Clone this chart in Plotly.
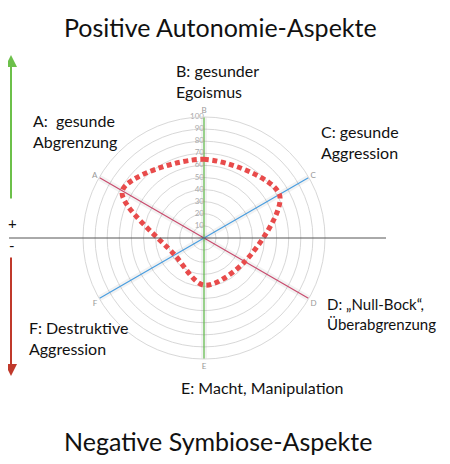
import plotly.graph_objects as go

categories = ["A", "B", "C", "D", "E", "F"]
values = [78, 65, 72, 39, 39, 28]
radial_ticks = [10, 20, 30, 40, 50, 60, 70, 80, 90, 100]
radial_tick_labels = [str(v) for v in radial_ticks]
axis_pairs = [("A", "D", "#c94c6e"), ("B", "E", "#5dbb46"), ("C", "F", "#4a9ee0")]

OFF = 8  # page body margin
W, H = 450 - OFF, 464 - OFF
cx, cy, R = 204, 238, 121

def px(x):
    return (x - OFF) / W

def py(y):
    return 1 - (y - OFF) / H

fig = go.Figure()

for a, b, col in axis_pairs:
    fig.add_trace(go.Scatterpolar(
        r=[100, 0, 100], theta=[a, a, b], mode="lines",
        line=dict(color="rgba(0,0,0,0.05)", width=6), hoverinfo="skip"))
    fig.add_trace(go.Scatterpolar(
        r=[100, 0, 100], theta=[a, a, b], mode="lines",
        line=dict(color=col, width=1.2), hoverinfo="skip"))

fig.add_trace(go.Scatterpolar(
    r=radial_ticks, theta=["B"] * len(radial_ticks), mode="text",
    text=radial_tick_labels, textposition="middle left",
    textfont=dict(size=8, color="#aaaaaa", family="Lato"), hoverinfo="skip"))

fig.add_trace(go.Scatterpolar(
    r=values + [values[0]], theta=categories + [categories[0]],
    mode="lines", line=dict(color="#e84b4b", width=5, dash="5px,3.5px", shape="spline", smoothing=0.9),
    hoverinfo="skip"))

fig.update_layout(
    width=W, height=H,
    margin=dict(l=0, r=0, t=0, b=0),
    paper_bgcolor="white",
    showlegend=False,
    font=dict(family="Lato", color="#111"),
    polar=dict(
        domain=dict(x=[px(cx - R), px(cx + R)], y=[py(cy + R), py(cy - R)]),
        bgcolor="white",
        gridshape="circular",
        radialaxis=dict(range=[0, 100], tickvals=radial_ticks, angle=90,
                        showline=False, showticklabels=False, gridcolor="#d8d8d8", gridwidth=1,
                        ticks=""),
        angularaxis=dict(categoryarray=categories, rotation=150, direction="clockwise",
                         showgrid=False, showline=True, linecolor="#d8d8d8", ticks="",
                         tickfont=dict(size=8, color="#999999")),
    ),
)

# horizontal divider line
fig.add_shape(type="line", xref="paper", yref="paper", x0=px(9), x1=px(386), y0=py(238), y1=py(238),
              line=dict(color="#555555", width=1), layer="above")

# arrows
fig.add_annotation(xref="paper", yref="paper", x=px(11), y=py(55), ax=0, ay=145, text="",
                   showarrow=True, arrowhead=2, arrowsize=1.2, arrowwidth=2, arrowcolor="#6cc04a")
fig.add_annotation(xref="paper", yref="paper", x=px(11), y=py(376), ax=0, ay=-120, text="",
                   showarrow=True, arrowhead=2, arrowsize=1.2, arrowwidth=2, arrowcolor="#c0392b")

def txt(s, x, y, size=16, anchor="left"):
    fig.add_annotation(xref="paper", yref="paper", x=px(x), y=py(y), text=s, showarrow=False,
                       xanchor=anchor, yanchor="middle", align="left",
                       font=dict(size=size, color="#111"))

txt("+", 12, 223, 15, "center")
txt("-", 12, 245, 15, "center")
txt("Positive Autonomie-Aspekte", 220, 27, 25, "center")
txt("Negative Symbiose-Aspekte", 218, 441, 25, "center")
txt("B: gesunder<br>Egoismus", 174, 81)
txt("A:  gesunde<br>Abgrenzung", 31, 131)
txt("C: gesunde<br>Aggression", 319, 142)
txt("D: „Null-Bock“,<br>Überabgrenzung", 325, 314, 15)
txt("F: Destruktive<br>Aggression", 27, 338)
txt("E: Macht, Manipulation", 179, 387)

fig.write_html("out.html")
